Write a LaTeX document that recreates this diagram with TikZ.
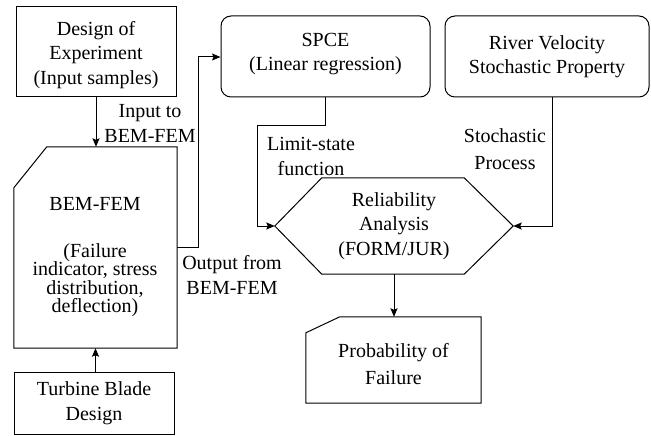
\documentclass[tikz,border=0pt]{standalone}
\usepackage{fontspec}
\setmainfont{Liberation Serif}
\usetikzlibrary{arrows.meta,calc}
\tikzset{
  txt/.style={font=\fontsize{20}{24.5}\selectfont, align=center, inner sep=0pt},
  box/.style={txt, draw, line width=1pt, inner sep=0pt},
  rbox/.style={box, rounded corners=10pt},
  blank/.style={txt, draw=none, inner sep=0pt},
  outline/.style={draw, line width=1pt, line join=miter},
  conn/.style={line width=1pt, -{Stealth[length=8.5pt,width=7pt,inset=1.5pt]}},
  lbl/.style={font=\fontsize{20}{25}\selectfont, align=center, inner sep=0pt}
}
\begin{document}
\begin{tikzpicture}[x=1pt,y=-1pt]
\useasboundingbox (0,0) rectangle (651,436);

% boxes
\node[box, minimum width=160pt, minimum height=90pt] (des) at (96,52) {};
\node[txt] (destxt) at (96,55) {Design of\\Experiment\\(Input samples)};
\node[box, minimum width=160pt, minimum height=62pt] (turb) at (94,403) {Turbine Blade\\Design};
\node[rbox, minimum width=209pt, minimum height=81pt] (spce) at (325.5,56.5) {};
\node[txt] (spcetxt) at (325.5,54) {SPCE\\(Linear regression)};
\node[rbox, minimum width=204pt, minimum height=81pt] (river) at (547,56.5) {River Velocity\\Stochastic Property};

% BEM-FEM (cut corner)
\node[blank, minimum width=163pt, minimum height=201pt] (bem) at (95.5,247.5) {};
\draw[outline] ([xshift=33pt]bem.north west) -- (bem.north east) -- (bem.south east)
  -- (bem.south west) -- ([yshift=-41pt]bem.north west) -- cycle;
\node[txt, font=\fontsize{20}{18.3}\selectfont] (bemtxt) at (95,257) {BEM-FEM\\[28.7pt](Failure\\indicator, stress\\distribution,\\deflection)};

% Reliability hexagon
\node[blank, minimum width=238pt, minimum height=96pt] (hex) at (394,226) {Reliability\\Analysis\\(FORM/JUR)};
\draw[outline] (hex.west) -- ([xshift=47pt]hex.north west) -- ([xshift=-49pt]hex.north east)
  -- (hex.east) -- ([xshift=-49pt]hex.south east) -- ([xshift=47pt]hex.south west) -- cycle;

% Probability (cut corner)
\node[blank, minimum width=175pt, minimum height=86pt] (prob) at (393.5,360) {};
\draw[outline] ([xshift=34pt]prob.north west) -- (prob.north east) -- (prob.south east)
  -- (prob.south west) -- ([yshift=-16pt]prob.north west) -- cycle;
\node[txt, font=\fontsize{20}{26.5}\selectfont] (probtxt) at (393.5,364) {Probability of\\Failure};

% connectors
\draw[conn] (des.south) -- (des.south |- bem.north);
\draw[conn] (bem.south |- turb.north) -- (bem.south);
\coordinate (k0) at (198,57);
\draw[conn] (bem.east) -| (k0) -- (k0 -| spce.west);
\coordinate (k1) at (257,125);
\draw[conn] (spce.south) |- (k1) |- (hex.west);
\coordinate (k2) at (552,97);
\draw[conn] (k2) |- (hex.east);
\draw[conn] (hex.south) -- (hex.south |- prob.north);

% labels
\node[lbl] (l1) at (150,123) {Input to\\BEM-FEM};
\node[lbl] (l2) at (232,275) {Output from\\BEM-FEM};
\node[lbl] (l3) at (311,156) {Limit-state\\function};
\node[lbl, font=\fontsize{20}{27}\selectfont] (l4) at (505,149) {Stochastic\\Process};
\end{tikzpicture}
\end{document}
